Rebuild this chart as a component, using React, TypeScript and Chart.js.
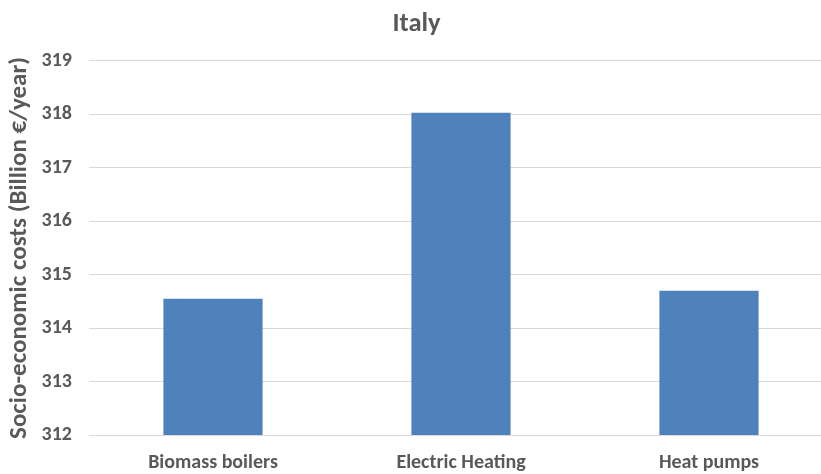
import React, { useEffect, useRef } from "react";
import { Chart, registerables } from "chart.js";

Chart.register(...registerables);

const categories = ["Biomass boilers", "Electric Heating", "Heat pumps"];
const costs = [314.55, 318.03, 314.7];
const yMin = 312;
const yMax = 319;
const yStep = 1;
const chartTitle = "Italy";
const yTitle = "Socio-economic costs (Billion €/year)";

const FONT = 'Carlito, Calibri, "Liberation Sans", Arial, sans-serif';
const TEXT = "#595959";
const GRID = "#D9D9D9";
const BAR = "#4F81BD";

export default function App() {
  const ref = useRef<HTMLCanvasElement | null>(null);

  useEffect(() => {
    document.body.style.margin = "0";
    const canvas = ref.current;
    if (!canvas) return;
    const chart = new Chart(canvas, {
      type: "bar",
      data: {
        labels: categories,
        datasets: [
          {
            data: costs,
            backgroundColor: BAR,
            borderWidth: 0,
            barPercentage: 0.4,
            categoryPercentage: 1,
          },
        ],
      },
      options: {
        responsive: false,
        animation: false,
        layout: { padding: 0 },
        plugins: {
          legend: { display: false },
          tooltip: { enabled: false },
          title: {
            display: true,
            text: chartTitle,
            color: TEXT,
            font: { family: FONT, size: 26.5, weight: "bold" },
            padding: { top: 8, bottom: 21 },
          },
        },
        scales: {
          x: {
            grid: { display: false, drawTicks: false },
            border: { display: false },
            ticks: {
              color: TEXT,
              font: { family: FONT, size: 20, weight: "bold" },
              padding: 16,
              maxRotation: 0,
            },
            afterFit: (s: any) => {
              s.height = 39;
            },
          },
          y: {
            min: yMin,
            max: yMax,
            grid: { color: GRID, lineWidth: 1, drawTicks: false },
            border: { display: false },
            ticks: {
              stepSize: yStep,
              color: TEXT,
              font: { family: FONT, size: 20, weight: "bold" },
              padding: 17,
            },
            title: {
              display: true,
              text: yTitle,
              color: TEXT,
              font: { family: FONT, size: 25, weight: "bold" },
              padding: { top: 5, bottom: 0 },
            },
            afterFit: (s: any) => {
              s.width = 89;
            },
          },
        },
      },
    });
    return () => chart.destroy();
  }, []);

  return (
    <div style={{ width: 821, height: 474, overflow: "hidden", position: "relative", background: "#fff" }}>
      <canvas ref={ref} width={833} height={474} style={{ display: "block" }} />
    </div>
  );
}
